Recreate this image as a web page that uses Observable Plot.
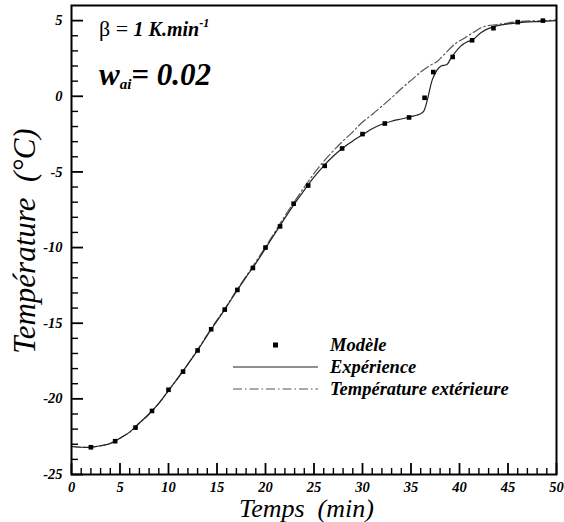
<!DOCTYPE html>
<html>
<head>
<meta charset="utf-8">
<script src="https://cdn.jsdelivr.net/npm/d3@7"></script>
<script src="https://cdn.jsdelivr.net/npm/@observablehq/plot@0.6"></script>
<style>
  body { margin: 0; background: #fff; }
  #chart { width: 564px; height: 522px; }
  #chart svg, #chart svg text { font-family: "Liberation Serif", "Times New Roman", "DejaVu Serif", serif !important; }
</style>
</head>
<body>
<div id="chart"></div>
<script>
// ---- data ----
const modelX = [2.0, 4.5, 6.6, 8.3, 10.0, 11.5, 13.0, 14.4, 15.8, 17.1, 18.7, 20.0, 21.5, 22.9, 24.4, 26.1, 27.9, 30.0, 32.3, 34.8, 36.4, 37.3, 39.3, 41.3, 43.5, 46.0, 48.6];
const modelY = [-23.2, -22.8, -21.9, -20.8, -19.4, -18.2, -16.8, -15.4, -14.1, -12.8, -11.35, -10.0, -8.6, -7.1, -5.9, -4.6, -3.45, -2.5, -1.8, -1.4, -0.1, 1.6, 2.6, 3.7, 4.5, 4.9, 5.0];

const expX = [0, 1, 2, 3, 4, 5, 6, 7, 8, 9, 10, 11, 12, 13, 14, 15, 16, 17, 18, 19, 20, 21, 22, 23, 24, 25, 26, 27, 28, 29, 30, 31, 32, 33, 34, 35, 36, 36.3, 36.7, 37.2, 37.7, 38.1, 38.7, 39.2, 40.1, 40.8, 41.4, 42.2, 43.5, 45.9, 48.4, 50];
const expY = [-23.15, -23.2, -23.2, -23.1, -22.95, -22.6, -22.2, -21.6, -21.0, -20.3, -19.45, -18.6, -17.7, -16.8, -15.8, -14.85, -13.9, -12.9, -11.95, -11.05, -10.05, -9.05, -8.05, -7.1, -6.2, -5.35, -4.6, -3.95, -3.4, -2.95, -2.55, -2.15, -1.85, -1.65, -1.5, -1.35, -1.15, -1.0, -0.2, 1.1, 1.75, 2.0, 2.1, 2.6, 3.3, 3.6, 3.75, 4.2, 4.6, 4.85, 4.95, 5.0];

const extX = [0, 1, 2, 3, 4, 5, 6, 7, 8, 9, 10, 11, 12, 13, 14, 15, 16, 17, 18, 19, 20, 21, 22, 23, 24, 25, 26, 27, 28, 29, 30, 31, 32, 33, 34, 35, 36, 37, 37.7, 38.4, 39.6, 40.4, 41.5, 42.5, 44, 46.3, 48.7, 50];
const extY = [-23.15, -23.2, -23.2, -23.1, -22.95, -22.6, -22.2, -21.6, -21.0, -20.3, -19.45, -18.6, -17.7, -16.75, -15.75, -14.8, -13.85, -12.85, -11.9, -10.95, -9.95, -8.95, -7.9, -6.95, -6.0, -5.1, -4.3, -3.6, -2.95, -2.35, -1.7, -1.2, -0.65, -0.1, 0.5, 1.05, 1.6, 2.05, 2.3, 2.75, 3.5, 3.8, 4.25, 4.6, 4.75, 4.95, 5.0, 5.05];

const xMajor = [0, 5, 10, 15, 20, 25, 30, 35, 40, 45, 50];
const xMinor = d3.range(1, 50).filter(v => v % 5 !== 0);
const yMajor = [-25, -20, -15, -10, -5, 0, 5];
const yMinor = d3.range(-24, 6).filter(v => v % 5 !== 0);

const legendLabels = ["Modèle", "Expérience", "Température extérieure"];
const xTitle = "Temps\u00a0\u00a0(min)";
const yTitle = "Température\u00a0\u00a0(°C)";

// ---- chart ----
const FONT = "'Liberation Serif', 'Times New Roman', 'DejaVu Serif', serif";
const W = 564, H = 522, mL = 71, mR = 8, mT = 5, mB = 48;
const fw = W - mL - mR, fh = H - mT - mB;
const tickFont = {fontSize: 14.5, fontWeight: "bold", fontStyle: "italic", fill: "#000", fontFamily: FONT, lineAnchor: "middle"};

const model = modelX.map((x, i) => ({x, y: modelY[i]}));
const exp = expX.map((x, i) => ({x, y: expY[i]}));
const ext = extX.map((x, i) => ({x, y: extY[i]}));

const chart = Plot.plot({
  width: W, height: H,
  marginLeft: mL, marginRight: mR, marginTop: mT, marginBottom: mB,
  style: {fontFamily: FONT, background: "#fff"},
  x: {domain: [0, 50], axis: null},
  y: {domain: [-25, 6], axis: null},
  marks: [
    Plot.line(ext, {x: "x", y: "y", stroke: "#555", strokeWidth: 1.2, strokeDasharray: "9,3,1.5,3", curve: "catmull-rom"}),
    Plot.line(exp, {x: "x", y: "y", stroke: "#222", strokeWidth: 1.2, curve: "catmull-rom"}),
    Plot.dot(model, {x: "x", y: "y", symbol: "square", r: 2.6, fill: "#000", stroke: null}),
    // ticks pointing inward
    Plot.tickX(xMinor, {x: d => d, stroke: "#000", strokeWidth: 1.4, insetTop: fh - 6}),
    Plot.tickX(xMajor, {x: d => d, stroke: "#000", strokeWidth: 1.8, insetTop: fh - 11}),
    Plot.tickY(yMinor, {y: d => d, stroke: "#000", strokeWidth: 1.4, insetRight: fw - 7}),
    Plot.tickY(yMajor, {y: d => d, stroke: "#000", strokeWidth: 1.8, insetRight: fw - 12}),
    Plot.frame({stroke: "#000", strokeWidth: 2}),
    // tick labels
    Plot.text(xMajor, {x: d => d, text: d => String(d), frameAnchor: "bottom", dy: 13, ...tickFont}),
    Plot.text(yMajor, {y: d => d, text: d => String(d), frameAnchor: "left", dx: -9, textAnchor: "end", ...tickFont}),
    // axis titles
    Plot.text([xTitle], {text: d => d, frameAnchor: "bottom", lineAnchor: "middle", textAnchor: "middle", dx: 235 - fw / 2, dy: 34, fontSize: 26, fontStyle: "italic", fill: "#000", fontFamily: FONT}),
    Plot.text([yTitle], {text: d => d, frameAnchor: "left", lineAnchor: "middle", textAnchor: "middle", rotate: -90, dx: -46, dy: 1, fontSize: 31, fontStyle: "italic", fill: "#000", fontFamily: FONT})
  ]
});
document.getElementById("chart").appendChild(chart);

// ---- annotations and legend ----
const svg = d3.select(chart);
const ann = svg.append("g").style("font-family", FONT).attr("fill", "#000").attr("text-anchor", "start");
const t1 = ann.append("text").attr("x", 99).attr("y", 36).style("font-size", "22px");
t1.append("tspan").text("β = ");
t1.append("tspan").style("font-weight", "bold").style("font-style", "italic").style("font-size", "20px").text("1 K.min");
t1.append("tspan").style("font-weight", "bold").style("font-style", "italic").style("font-size", "12px").attr("dy", -9).text("-1");

const t2 = ann.append("text").attr("x", 99).attr("y", 85).style("font-size", "31px").style("font-weight", "bold").style("font-style", "italic");
t2.append("tspan").text("w");
t2.append("tspan").style("font-size", "15px").attr("dy", 4).text("ai");
t2.append("tspan").attr("dy", -4).text("= 0.02");

const lg = ann.append("g").style("font-size", "18.5px").style("font-weight", "bold").style("font-style", "italic");
const rows = [345, 367, 389];
lg.append("rect").attr("x", 273).attr("y", rows[0] - 2.5).attr("width", 5).attr("height", 5).attr("fill", "#000");
lg.append("line").attr("x1", 233).attr("x2", 318).attr("y1", rows[1]).attr("y2", rows[1]).attr("stroke", "#222").attr("stroke-width", 1.2);
lg.append("line").attr("x1", 233).attr("x2", 318).attr("y1", rows[2]).attr("y2", rows[2]).attr("stroke", "#555").attr("stroke-width", 1.2).attr("stroke-dasharray", "9,3,1.5,3");
legendLabels.forEach((s, i) => {
  lg.append("text").attr("x", 330).attr("y", rows[i]).attr("dy", "0.32em").text(s);
});
</script>
</body>
</html>
